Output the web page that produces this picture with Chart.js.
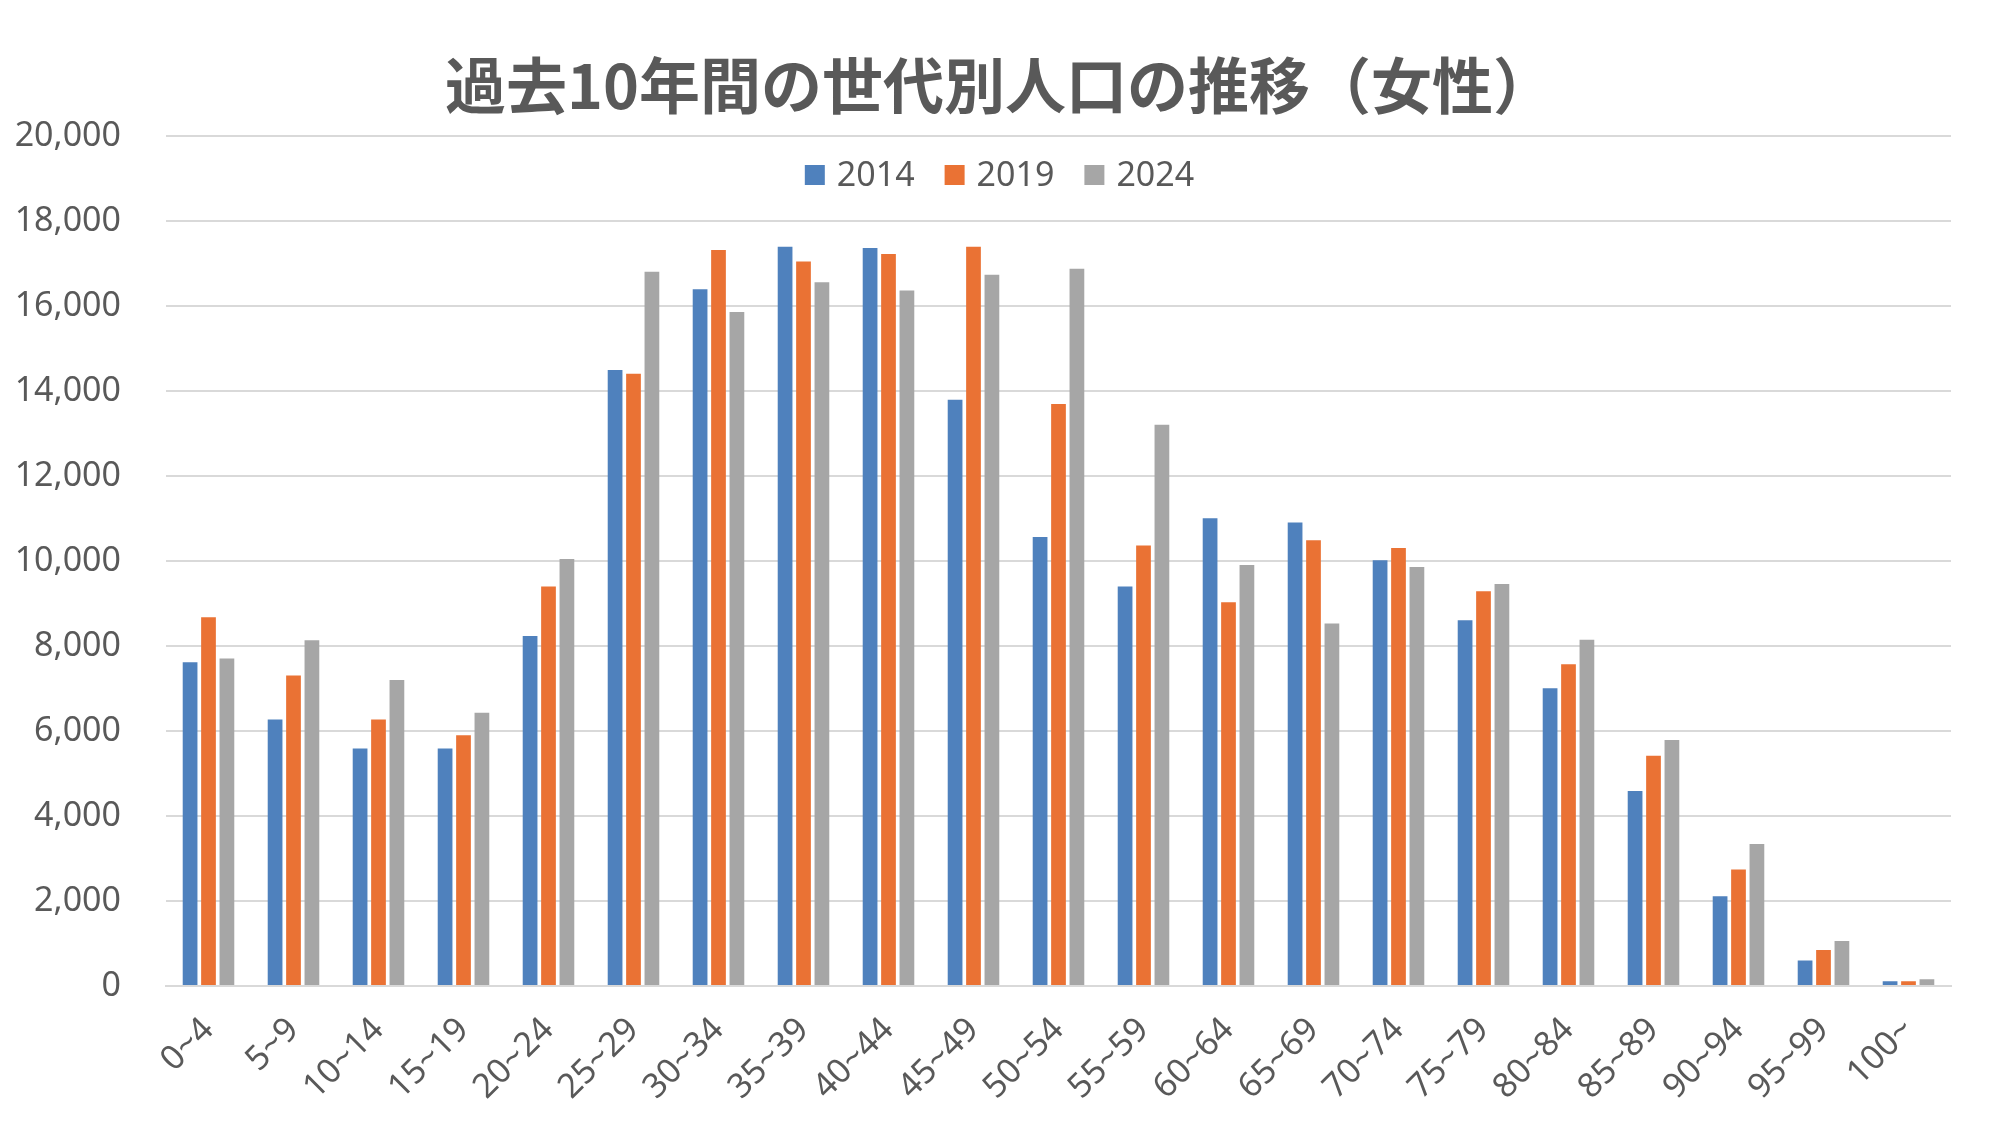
<!DOCTYPE html>
<html lang="ja">
<head>
<meta charset="UTF-8" />
<title>過去10年間の世代別人口の推移（女性）</title>
<script src="https://cdn.jsdelivr.net/npm/chart.js"></script>
<style>
  html, body { margin: 0; padding: 0; background: #fff; }
  #wrap { width: 1999px; height: 1125px; }
</style>
</head>
<body>
<div id="wrap"><canvas id="popChart" width="1999" height="1125"></canvas></div>
<script>
// age groups
const ageGroups = ['0~4','5~9','10~14','15~19','20~24','25~29','30~34','35~39','40~44','45~49',
  '50~54','55~59','60~64','65~69','70~74','75~79','80~84','85~89','90~94','95~99','100~'];

const years = ['2014', '2019', '2024'];

const pop2014 = [7620, 6270, 5590, 5590, 8240, 14500, 16400, 17400, 17370, 13800,
  10570, 9400, 11010, 10910, 10020, 8610, 7010, 4590, 2110, 600, 110];
const pop2019 = [8680, 7310, 6270, 5900, 9400, 14410, 17320, 17050, 17230, 17400,
  13700, 10370, 9030, 10490, 10310, 9290, 7570, 5420, 2740, 850, 110];
const pop2024 = [7710, 8140, 7200, 6430, 10050, 16810, 15860, 16560, 16370, 16740,
  16880, 13210, 9910, 8530, 9860, 9460, 8150, 5790, 3340, 1060, 160];

const colors = ['#4F81BD', '#EA7234', '#A6A6A6'];
const textColor = '#595959';
const tickFont = { family: "'Noto Sans', 'Open Sans', sans-serif", size: 34 };

// legend drawn inside the plot area, like the original
const innerLegend = {
  id: 'innerLegend',
  afterLayout(chart) {
    // centre the title on the whole canvas, not on canvas minus right padding
    const t = chart.titleBlock;
    if (t) { t.left += 24; t.right += 24; }
  },
  afterDraw(chart) {
    const ctx = chart.ctx;
    ctx.save();
    ctx.font = `${tickFont.size}px ${tickFont.family}`;
    ctx.textBaseline = 'middle';
    ctx.textAlign = 'left';
    const box = 20, gapBoxText = 12, gapItems = 30;
    const widths = years.map(y => ctx.measureText(y).width);
    let total = 0;
    widths.forEach((w, i) => { total += box + gapBoxText + w + (i < widths.length - 1 ? gapItems : 0); });
    let x = chart.width / 2 - total / 2;
    const cy = 175;
    years.forEach((y, i) => {
      ctx.fillStyle = colors[i];
      ctx.fillRect(x, cy - box / 2, box, box);
      x += box + gapBoxText;
      ctx.fillStyle = textColor;
      ctx.fillText(y, x, cy + 1);
      x += widths[i] + gapItems;
    });
    ctx.restore();
  }
};

const datasets = [pop2014, pop2019, pop2024].map((d, i) => ({
  label: years[i],
  data: d,
  backgroundColor: colors[i],
  borderWidth: 0,
  categoryPercentage: 0.65,
  barPercentage: 0.8
}));

new Chart(document.getElementById('popChart'), {
  type: 'bar',
  data: { labels: ageGroups, datasets },
  options: {
    responsive: false,
    animation: false,
    layout: { padding: { left: 0, right: 48, top: 0, bottom: 0 } },
    plugins: {
      legend: { display: false },
      tooltip: { enabled: false },
      title: {
        display: true,
        text: '過去10年間の世代別人口の推移（女性）',
        color: textColor,
        font: { family: "'Noto Sans CJK JP', sans-serif", size: 61, weight: 'bold', lineHeight: 1.2 },
        padding: { top: 49, bottom: 14 }
      }
    },
    scales: {
      x: {
        grid: { display: false, drawTicks: false },
        border: { display: true, color: '#D9D9D9', width: 2 },
        ticks: {
          color: textColor,
          font: tickFont,
          maxRotation: 45,
          minRotation: 45,
          autoSkip: false,
          padding: 24
        },
        afterFit(scale) { scale.height = 1125 - 986; }
      },
      y: {
        min: 0,
        max: 20000,
        grid: { color: '#D9D9D9', lineWidth: 2, drawTicks: false },
        border: { display: false },
        ticks: {
          stepSize: 2000,
          color: textColor,
          font: tickFont,
          padding: 45,
          callback: v => v.toLocaleString('en-US')
        },
        afterFit(scale) { scale.width = 166; }
      }
    }
  },
  plugins: [innerLegend]
});
</script>
</body>
</html>
